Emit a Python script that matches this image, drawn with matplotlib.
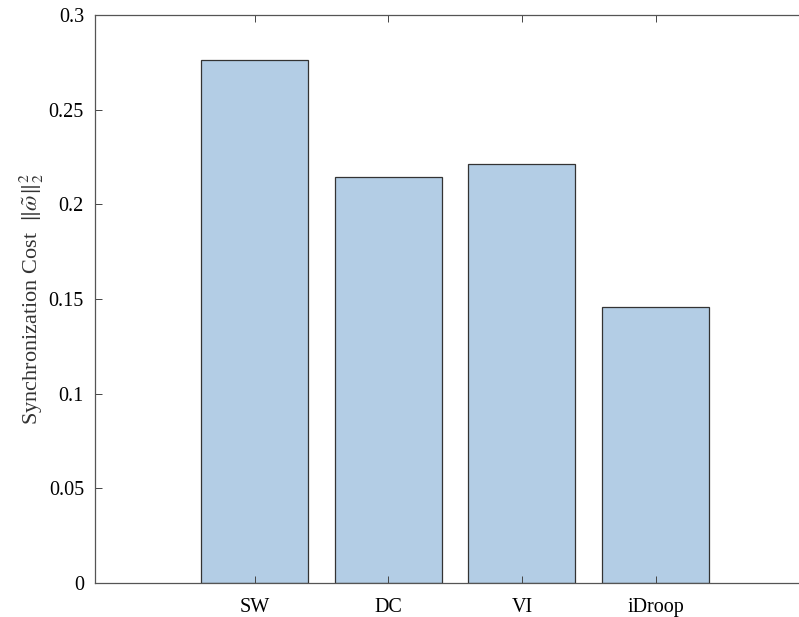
import numpy as np
import matplotlib
matplotlib.use('Agg')
import matplotlib.pyplot as plt

# data
methods = ['SW', 'DC', 'VI', 'iDroop']
cost = [0.2762, 0.2143, 0.2213, 0.1459]
yticks = [0, 0.05, 0.1, 0.15, 0.2, 0.25, 0.3]
ytick_labels = ['0', '0.05', '0.1', '0.15', '0.2', '0.25', '0.3']

plt.rcParams['font.family'] = ['Liberation Serif', 'DejaVu Serif']
plt.rcParams['mathtext.fontset'] = 'stix'

fig = plt.figure(figsize=(7.99, 6.17), dpi=100)
# axes runs past the right edge of the picture, like the cropped original
W, H = 799, 617
left, bottom, top = 95, 583, 15
px_per_unit = 133.7
x0, x1 = -0.193, 5.5
ax = fig.add_axes([left / W, (H - bottom) / H,
                   (x1 - x0) * px_per_unit / W, (bottom - top) / H])

x = np.arange(1, len(methods) + 1)
ax.bar(x, cost, width=0.8, color='#b3cde5', edgecolor='#333333', linewidth=0.9)

ax.set_xlim(x0, x1)
ax.set_ylim(0, 0.3)
ax.set_xticks(x)
ax.set_xticklabels(methods, fontsize=14.5)
ax.set_yticks(yticks)
ax.set_yticklabels(ytick_labels, fontsize=14.5)
ax.tick_params(direction='in', length=5, width=0.7, color='#444444',
               top=True, right=True)
ax.tick_params(axis='y', pad=8)
ax.tick_params(axis='x', pad=11)
for s in ax.spines.values():
    s.set_color('#555555')
    s.set_linewidth(0.9)

ax.set_ylabel(r'Synchronization Cost  $\|\tilde{\omega}\|_2^2$', fontsize=16,
              color='#333333', labelpad=2)

fig.savefig('out.png', dpi=100)
